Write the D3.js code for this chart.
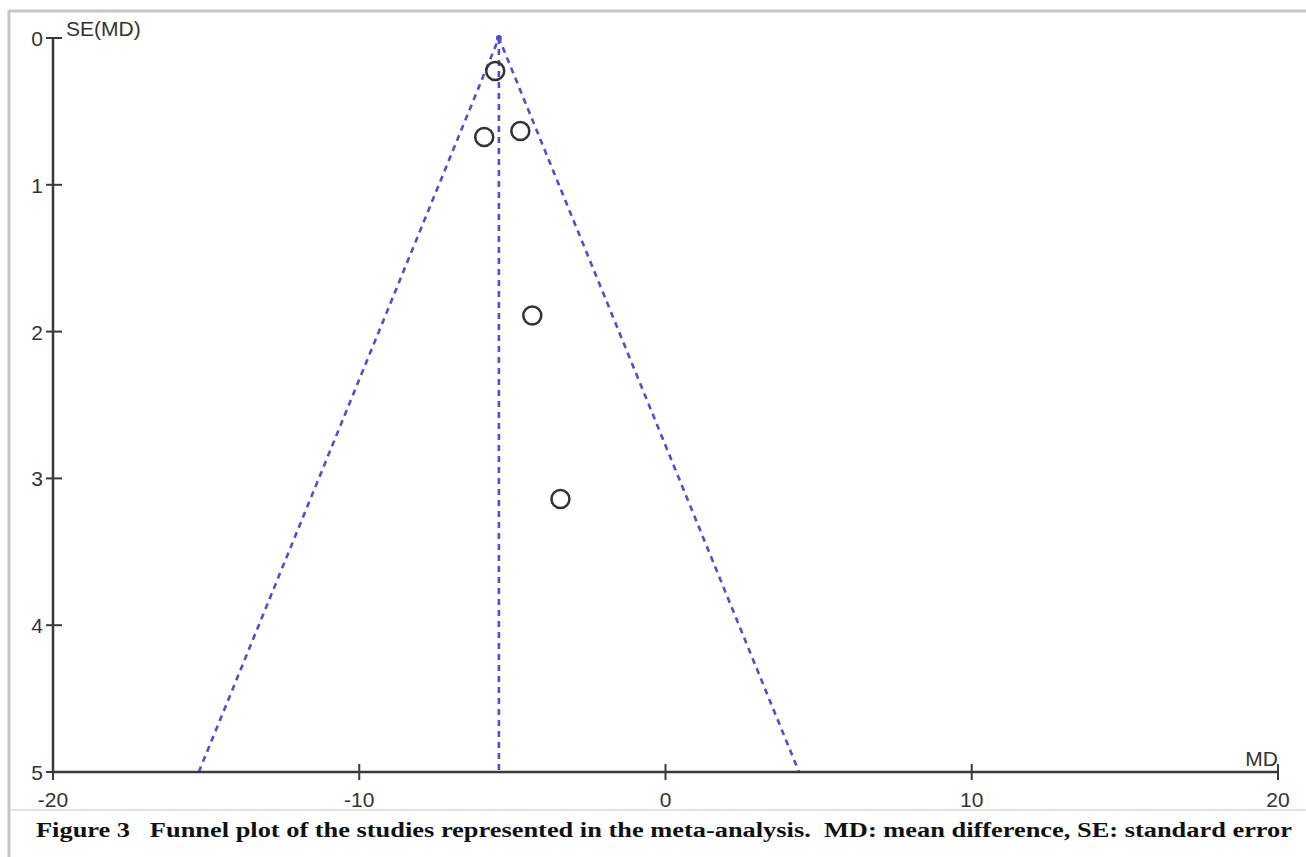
<!DOCTYPE html>
<html>
<head>
<meta charset="utf-8">
<script src="https://cdn.jsdelivr.net/npm/d3@7"></script>
<style>
  body { margin: 0; background: #fff; }
  svg { display: block; }
</style>
</head>
<body>
<svg id="chart" width="1306" height="857"></svg>
<script>
// study estimates
var studyMD = [-5.56, -5.92, -4.74, -4.35, -3.43];
var studySE = [0.225, 0.674, 0.633, 1.89, 3.14];
var pooledMD = -5.44;
var xTicks = [-20, -10, 0, 10, 20];
var yTicks = [0, 1, 2, 3, 4, 5];
var xDomain = [-20, 20];
var yDomain = [0, 5];
var caption = "Figure 3   Funnel plot of the studies represented in the meta-analysis.  MD: mean difference, SE: standard error";

var svg = d3.select("#chart");
var margin = { top: 38, left: 53, right: 28, bottom: 85 };
var width = +svg.attr("width");
var height = +svg.attr("height");

var x = d3.scaleLinear().domain(xDomain).range([margin.left, width - margin.right]);
var y = d3.scaleLinear().domain(yDomain).range([margin.top, height - margin.bottom]);

// frame
svg.append("line").attr("x1", 9).attr("x2", width).attr("y1", 11).attr("y2", 11)
    .attr("stroke", "#c6c6c6").attr("stroke-width", 3);
svg.append("line").attr("x1", 9).attr("x2", 9).attr("y1", 10).attr("y2", height)
    .attr("stroke", "#c6c6c6").attr("stroke-width", 3);
svg.append("line").attr("x1", 10).attr("x2", width).attr("y1", 810).attr("y2", 810)
    .attr("stroke", "#e4e4e4").attr("stroke-width", 2);

// funnel
var blue = "#5050c8";
var seMax = yDomain[1];
var funnel = [
    [pooledMD - 1.96 * seMax, seMax],
    [pooledMD, 0],
    [pooledMD + 1.96 * seMax, seMax]
];
var line = d3.line().x(function (d) { return x(d[0]); }).y(function (d) { return y(d[1]); });
svg.append("path")
    .attr("d", line(funnel))
    .attr("fill", "none")
    .attr("stroke", blue)
    .attr("stroke-width", 2.6)
    .attr("stroke-dasharray", "6,5");
svg.append("line")
    .attr("x1", x(pooledMD)).attr("x2", x(pooledMD))
    .attr("y1", y(0)).attr("y2", y(seMax))
    .attr("stroke", blue)
    .attr("stroke-width", 2.6)
    .attr("stroke-dasharray", "6,5");
svg.append("circle").attr("cx", x(pooledMD)).attr("cy", y(0)).attr("r", 3).attr("fill", blue);

// axes
var axisColor = "#3a3a3a";
var yAxis = svg.append("g").attr("transform", "translate(" + x(xDomain[0]) + ",0)");
yAxis.append("line").attr("y1", y(0)).attr("y2", y(5)).attr("stroke", axisColor).attr("stroke-width", 2.5);
yAxis.selectAll(".tick").data(yTicks).enter().append("line")
    .attr("x1", -7).attr("x2", 9)
    .attr("y1", function (d) { return y(d); }).attr("y2", function (d) { return y(d); })
    .attr("stroke", axisColor).attr("stroke-width", 2);
yAxis.selectAll("text").data(yTicks).enter().append("text")
    .attr("x", -10).attr("y", function (d) { return y(d) + 8; })
    .attr("text-anchor", "end")
    .attr("font-family", "Liberation Sans, Arial, sans-serif")
    .attr("font-size", 21).attr("fill", "#333")
    .text(function (d) { return d; });

var xAxis = svg.append("g").attr("transform", "translate(0," + y(yDomain[1]) + ")");
xAxis.append("line").attr("x1", x(-20)).attr("x2", x(20)).attr("stroke", axisColor).attr("stroke-width", 2.5);
xAxis.selectAll(".tick").data(xTicks).enter().append("line")
    .attr("x1", function (d) { return x(d); }).attr("x2", function (d) { return x(d); })
    .attr("y1", -8).attr("y2", 8)
    .attr("stroke", axisColor).attr("stroke-width", 2);
xAxis.selectAll("text").data(xTicks).enter().append("text")
    .attr("x", function (d) { return x(d); }).attr("y", 35)
    .attr("text-anchor", "middle")
    .attr("font-family", "Liberation Sans, Arial, sans-serif")
    .attr("font-size", 21).attr("fill", "#333")
    .text(function (d) { return d; });

svg.append("text").attr("x", 66).attr("y", 36)
    .attr("font-family", "Liberation Sans, Arial, sans-serif")
    .attr("font-size", 21).attr("fill", "#333").text("SE(MD)");
svg.append("text").attr("x", 1278).attr("y", 766).attr("text-anchor", "end")
    .attr("font-family", "Liberation Sans, Arial, sans-serif")
    .attr("font-size", 21).attr("fill", "#333").text("MD");

// studies
svg.selectAll(".study").data(studyMD).enter().append("circle")
    .attr("class", "study")
    .attr("cx", function (d) { return x(d); })
    .attr("cy", function (d, i) { return y(studySE[i]); })
    .attr("r", 9)
    .attr("fill", "none")
    .attr("stroke", "#333")
    .attr("stroke-width", 2.5);

// caption
svg.append("text").attr("x", 36).attr("y", 837)
    .attr("font-family", "Liberation Serif, Times New Roman, serif")
    .attr("font-weight", "bold")
    .attr("font-size", 20).attr("fill", "#111")
    .attr("textLength", 1256)
    .attr("lengthAdjust", "spacingAndGlyphs")
    .attr("xml:space", "preserve")
    .style("white-space", "pre")
    .text(caption);
</script>
</body>
</html>
